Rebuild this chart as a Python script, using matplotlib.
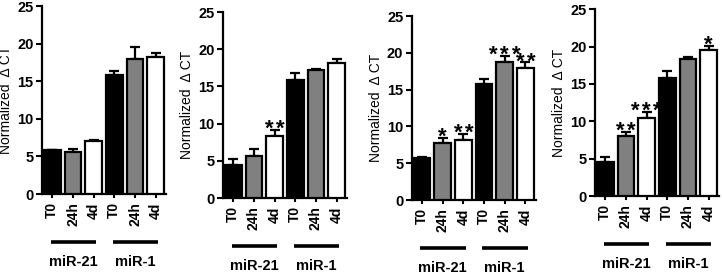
import numpy as np
import matplotlib.pyplot as plt
from matplotlib.transforms import offset_copy

plt.rcParams['font.family'] = ['Liberation Sans', 'DejaVu Sans']

# bar labels and groups
tick_labels = ['T0', '24h', '4d', 'T0', '24h', '4d']
group_names = ['miR-21', 'miR-1']
bar_colors = ['black', 'gray', 'white', 'black', 'gray', 'white']

# values (mean, upper error, significance stars)
p1_means = [5.8, 5.65, 7.0, 15.8, 17.9, 18.2]
p1_errs = [0.1, 0.3, 0.2, 0.6, 1.7, 0.5]
p1_stars = ['', '', '', '', '', '']

p2_means = [4.4, 5.6, 8.4, 15.8, 17.2, 18.2]
p2_errs = [0.8, 1.0, 0.7, 1.0, 0.2, 0.5]
p2_stars = ['', '', '**', '', '', '']

p3_means = [5.7, 7.7, 8.2, 15.7, 18.8, 18.0]
p3_errs = [0.1, 0.7, 0.8, 0.7, 0.8, 0.7]
p3_stars = ['', '*', '**', '', '***', '**']

p4_means = [4.5, 8.0, 10.5, 15.75, 18.35, 19.5]
p4_errs = [0.7, 0.6, 0.8, 1.0, 0.3, 0.6]
p4_stars = ['', '**', '***', '', '', '*']

W, H = 722, 276
fig = plt.figure(figsize=(W / 100, H / 100), dpi=100)

# panel boxes in pixels: left, top, bottom
boxes = [(42, 6, 194), (223, 12, 198), (411.7, 16, 200), (595, 9.3, 196)]
panel_w = 124


def draw_panel(box, means, errs, stars):
    left, top, bottom = box
    ax = fig.add_axes([left / W, (H - bottom) / H, panel_w / W, (bottom - top) / H])
    x = np.arange(len(means))
    ax.bar(x, means, width=0.8, color=bar_colors, edgecolor='black', linewidth=1.6, zorder=3)
    ax.errorbar(x, means, yerr=[np.zeros(len(errs)), errs], fmt='none', ecolor='black',
                elinewidth=1.6, capsize=3.6, capthick=1.6, zorder=2)
    # stars drawn one by one so they keep the wide spacing of the original
    for xi, m, e, s in zip(x, means, errs, stars):
        k = len(s)
        for i in range(k):
            dx = (i - (k - 1) / 2) * 8.0
            ax.annotate('*', (xi, m + e), xytext=(dx, -3.5), textcoords='offset points',
                        ha='center', va='baseline', fontsize=16, fontweight='bold')
    ax.set_xlim(-0.5, 5.5)
    ax.set_ylim(0, 25)
    ax.set_yticks([0, 5, 10, 15, 20, 25])
    ax.set_xticks(x)
    ax.set_xticklabels(tick_labels, rotation=90, fontsize=10, fontweight='bold')
    for lab in ax.get_yticklabels():
        lab.set_fontweight('bold')
        lab.set_fontsize(10.5)
    ax.tick_params(axis='both', length=4, width=1.5, pad=2)
    ax.tick_params(axis='x', length=3, pad=3)
    for sp in ['top', 'right']:
        ax.spines[sp].set_visible(False)
    for sp in ['left', 'bottom']:
        ax.spines[sp].set_linewidth(1.6)
    ax.set_ylabel('Normalized  \u0394 CT', fontsize=10, labelpad=3)

    # group lines and names below the axis
    line_tr = offset_copy(ax.get_xaxis_transform(), fig=fig, y=-48, units='dots')
    for g in [1, 4]:
        ax.plot([g - 1.08, g + 1.12], [0, 0], color='black', linewidth=2.6,
                transform=line_tr, clip_on=False, solid_capstyle='butt')
    for g, name in zip([1, 4], group_names):
        ax.annotate(name, (g, 0), xycoords=ax.get_xaxis_transform(), xytext=(0, -49),
                    textcoords='offset points', ha='center', va='center',
                    fontsize=10.5, fontweight='bold')
    return ax


draw_panel(boxes[0], p1_means, p1_errs, p1_stars)
draw_panel(boxes[1], p2_means, p2_errs, p2_stars)
draw_panel(boxes[2], p3_means, p3_errs, p3_stars)
draw_panel(boxes[3], p4_means, p4_errs, p4_stars)

plt.savefig('out.png', dpi=100)
